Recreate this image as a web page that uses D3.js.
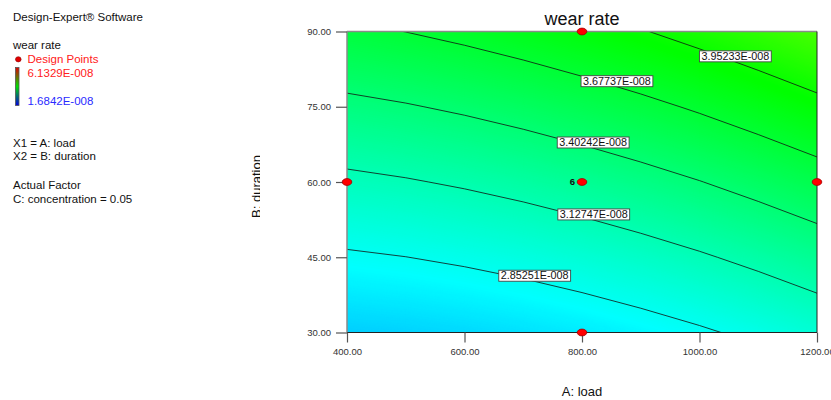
<!DOCTYPE html>
<html>
<head>
<meta charset="utf-8">
<script src="https://cdn.jsdelivr.net/npm/d3@7"></script>
<style>
  body { margin: 0; background: #fff; }
  svg { display: block; font-family: "Liberation Sans", Arial, sans-serif; }
</style>
</head>
<body>
<svg id="chart" width="831" height="400"></svg>
<script>
// Factor grid: A = load, B = duration
const loadValues = [400, 500, 600, 700, 800, 900, 1000, 1100, 1200];
const durationValues = [30, 45, 60, 75, 90];
// Predicted wear rate (x 1E-008) at each grid node, one row per duration
const wearRate30 = [2.5859, 2.6044, 2.6317, 2.6674, 2.7119, 2.7650, 2.8267, 2.8970, 2.9759];
const wearRate45 = [2.8259, 2.8507, 2.8842, 2.9262, 2.9769, 3.0362, 3.1042, 3.1807, 3.2659];
const wearRate60 = [3.0809, 3.1119, 3.1517, 3.1999, 3.2569, 3.3225, 3.3967, 3.4795, 3.5709];
const wearRate75 = [3.3509, 3.3882, 3.4342, 3.4887, 3.5519, 3.6237, 3.7042, 3.7932, 3.8909];
const wearRate90 = [3.6359, 3.6794, 3.7317, 3.7924, 3.8619, 3.9400, 4.0267, 4.1220, 4.2259];
// Contour levels and the load at which each level is labelled
const contourLevels = [2.85251, 3.12747, 3.40242, 3.67737, 3.95233];
const labelLoads = [719.5, 820, 819, 859.5, 1061];
// Design points (load, duration, replicate count)
const designLoad = [400, 800, 800, 800, 1200];
const designDuration = [60, 90, 60, 30, 60];
const designCount = [1, 1, 6, 1, 1];
// Colour legend range
const legendMax = 6.1329;
const legendMin = 1.6842;
const xTicks = [400, 600, 800, 1000, 1200];
const yTicks = [30, 45, 60, 75, 90];

const rows = [wearRate30, wearRate45, wearRate60, wearRate75, wearRate90];
const nx = loadValues.length, ny = durationValues.length;
const loadStep = loadValues[1] - loadValues[0];
const durStep = durationValues[1] - durationValues[0];
const grid = [].concat(...rows);

const svg = d3.select("#chart");
const plot = { left: 347, right: 817, top: 31.5, bottom: 332.5 };

const xScale = d3.scaleLinear().domain([400, 1200]).range([plot.left, plot.right]);
const yScale = d3.scaleLinear().domain([30, 90]).range([plot.bottom, plot.top]);

// colour by response: blue (low) -> cyan -> green -> yellow -> red (high)
const color = v => {
  const t = (v - legendMin) / (legendMax - legendMin);
  return d3.hsl(240 * (1 - t), 1, 0.5).formatHex();
};

// grid-space (value centred at i+0.5) -> screen
const gridProjection = d3.geoTransform({
  point(gx, gy) {
    this.stream.point(
      xScale(loadValues[0] + (gx - 0.5) * loadStep),
      yScale(durationValues[0] + (gy - 0.5) * durStep)
    );
  }
});
const gridPath = d3.geoPath(gridProjection);

const defs = svg.append("defs");
defs.append("clipPath").attr("id", "plotClip")
  .append("rect")
  .attr("x", plot.left).attr("y", plot.top)
  .attr("width", plot.right - plot.left).attr("height", plot.bottom - plot.top);

const grad = defs.append("linearGradient").attr("id", "legendGrad")
  .attr("x1", 0).attr("y1", 0).attr("x2", 0).attr("y2", 1);
grad.append("stop").attr("offset", "0%").attr("stop-color", "#e00000");
grad.append("stop").attr("offset", "50%").attr("stop-color", "#00e000");
grad.append("stop").attr("offset", "100%").attr("stop-color", "#0000e0");

defs.append("clipPath").attr("id", "yTitleClip")
  .append("rect").attr("x", 230).attr("y", 100).attr("width", 30).attr("height", 160);

// ---- filled response surface ----
const field = svg.append("g").attr("clip-path", "url(#plotClip)");
const fillStep = 0.008;
const fillLevels = d3.range(d3.min(grid) - fillStep, d3.max(grid) + fillStep, fillStep);
field.append("rect")
  .attr("x", plot.left).attr("y", plot.top)
  .attr("width", plot.right - plot.left).attr("height", plot.bottom - plot.top)
  .attr("fill", color(d3.min(grid)));
const bands = d3.contours().size([nx, ny]).thresholds(fillLevels)(grid);
field.selectAll("path.band").data(bands).join("path")
  .attr("class", "band")
  .attr("d", gridPath)
  .attr("fill", d => color(d.value + fillStep / 2))
  .attr("stroke", d => color(d.value + fillStep / 2))
  .attr("stroke-width", 0.4);

// ---- contour lines ----
const lines = d3.contours().size([nx, ny]).thresholds(contourLevels)(grid);
field.selectAll("path.iso").data(lines).join("path")
  .attr("class", "iso")
  .attr("d", gridPath)
  .attr("fill", "none")
  .attr("stroke", "#111")
  .attr("stroke-width", 0.8);

// ---- frame ----
const frame = svg.append("g");
frame.append("line").attr("x1", plot.left).attr("x2", plot.right).attr("y1", plot.top).attr("y2", plot.top)
  .attr("stroke", "#8a8a8a").attr("stroke-width", 1.3);
frame.append("line").attr("x1", plot.left).attr("x2", plot.left).attr("y1", plot.top).attr("y2", plot.bottom)
  .attr("stroke", "#8a8a8a").attr("stroke-width", 1.5);
frame.append("line").attr("x1", plot.left).attr("x2", plot.right).attr("y1", plot.bottom).attr("y2", plot.bottom)
  .attr("stroke", "#222").attr("stroke-width", 1);
frame.append("line").attr("x1", plot.right).attr("x2", plot.right).attr("y1", plot.top).attr("y2", plot.bottom)
  .attr("stroke", "#222").attr("stroke-width", 1);

// ---- axes ----
const fmt = d3.format(".2f");
const xAxis = svg.append("g").attr("transform", `translate(0,${plot.bottom})`)
  .call(d3.axisBottom(xScale).tickValues(xTicks).tickFormat(fmt).tickSize(10).tickSizeOuter(0).tickPadding(6));
const yAxis = svg.append("g").attr("transform", `translate(${plot.left},0)`)
  .call(d3.axisLeft(yScale).tickValues(yTicks).tickFormat(fmt).tickSize(11).tickSizeOuter(0).tickPadding(5));
[xAxis, yAxis].forEach(ax => {
  ax.select(".domain").remove();
  ax.selectAll(".tick line").attr("stroke", "#555").attr("stroke-width", 1.2);
  ax.selectAll(".tick text").attr("fill", "#333").style("font-size", "9.5px")
    .style("font-family", "'Liberation Sans', Arial, sans-serif");
});

// ---- contour labels ----
function durationAt(load, level) {
  const fx = (load - loadValues[0]) / loadStep;
  const i = Math.max(0, Math.min(nx - 2, Math.floor(fx)));
  const u = fx - i;
  const col = rows.map(r => r[i] * (1 - u) + r[i + 1] * u);
  for (let j = 0; j < ny - 1; j++) {
    if ((col[j] - level) * (col[j + 1] - level) <= 0) {
      const s = (level - col[j]) / (col[j + 1] - col[j]);
      return durationValues[j] + s * durStep;
    }
  }
  return null;
}
const labelG = svg.append("g");
contourLevels.forEach((lvl, k) => {
  const load = labelLoads[k];
  const dur = durationAt(load, lvl);
  const px = xScale(load), py = yScale(dur);
  const g = labelG.append("g");
  const txt = g.append("text")
    .attr("x", px).attr("y", py - 2.3)
    .attr("text-anchor", "middle")
    .style("font-size", "10.8px")
    .attr("fill", "#111")
    .text(lvl.toFixed(5) + "E-008");
  const w = txt.node().getComputedTextLength();
  g.insert("rect", "text")
    .attr("x", px - w / 2 - 2).attr("y", py - 11.2)
    .attr("width", w + 4).attr("height", 11)
    .attr("fill", "#fff").attr("stroke", "#444").attr("stroke-width", 0.9);
});

// ---- design points ----
const pts = svg.append("g");
designLoad.forEach((ld, k) => {
  const px = xScale(ld), py = yScale(designDuration[k]);
  pts.append("ellipse").attr("cx", px).attr("cy", py).attr("rx", 4.8).attr("ry", 3.4)
    .attr("fill", "#ff0000").attr("stroke", "#a00000").attr("stroke-width", 0.8);
  if (designCount[k] > 1) {
    pts.append("text").attr("x", px - 7).attr("y", py + 2.8)
      .attr("text-anchor", "end").style("font-size", "9.5px").style("font-weight", "bold")
      .attr("fill", "#111").text(designCount[k]);
  }
});

// ---- titles ----
svg.append("text").attr("x", (plot.left + plot.right) / 2).attr("y", 25)
  .attr("text-anchor", "middle").style("font-size", "18px").attr("fill", "#111").text("wear rate");
svg.append("text").attr("x", (plot.left + plot.right) / 2).attr("y", 396)
  .attr("text-anchor", "middle").style("font-size", "13px").attr("fill", "#111").text("A: load");
svg.append("g").attr("clip-path", "url(#yTitleClip)")
  .append("text")
  .attr("transform", `translate(261,${(plot.top + plot.bottom) / 2 + 4.5}) rotate(-90)`)
  .attr("text-anchor", "middle").style("font-size", "13px").attr("fill", "#111").text("B: duration");

// ---- side legend ----
const side = svg.append("g").style("font-size", "11.5px");
const sideText = (x, y, t, fill) => side.append("text").attr("x", x).attr("y", y).attr("fill", fill || "#111").text(t);
sideText(13, 21, "Design-Expert\u00AE Software");
sideText(13, 48.5, "wear rate");
side.append("ellipse").attr("cx", 18.3).attr("cy", 59.3).attr("rx", 2.8).attr("ry", 2.6)
  .attr("fill", "#e00000").attr("stroke", "#900000").attr("stroke-width", 0.6);
sideText(27.5, 63.3, "Design Points", "#ff2020");
side.append("rect").attr("x", 15.5).attr("y", 67.5).attr("width", 3.5).attr("height", 38)
  .attr("fill", "url(#legendGrad)").attr("stroke", "#555").attr("stroke-width", 0.8);
sideText(27.5, 76.7, legendMax.toFixed(4) + "E-008", "#ff2020");
sideText(27.5, 104.7, legendMin.toFixed(4) + "E-008", "#2a2aff");
sideText(13, 147, "X1 = A: load");
sideText(13, 160.3, "X2 = B: duration");
sideText(13, 188.7, "Actual Factor");
sideText(13, 203, "C: concentration = 0.05");
</script>
</body>
</html>
